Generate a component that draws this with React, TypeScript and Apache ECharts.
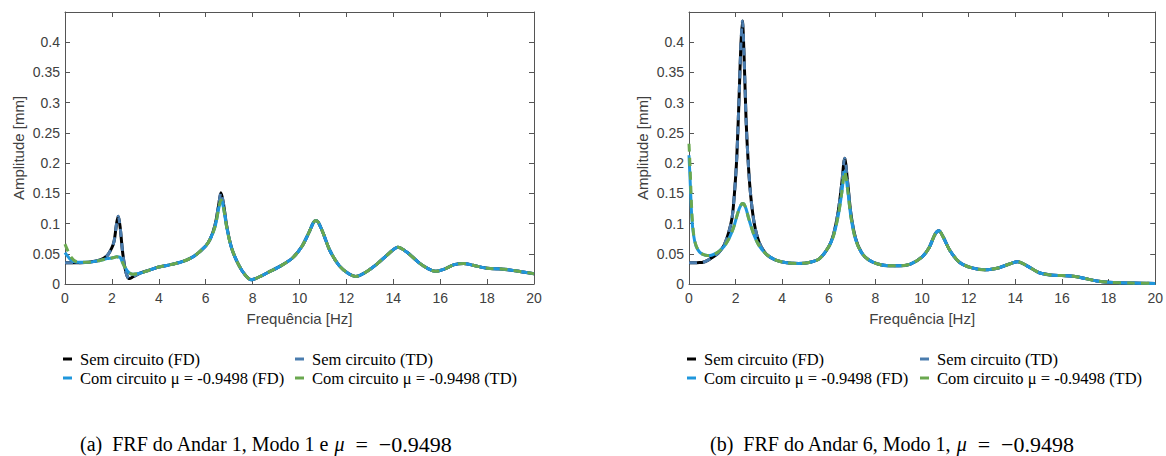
import React, { useEffect, useRef } from "react";
import * as echarts from "echarts";

// ---------- data ----------
const names = [
  "Sem circuito (FD)",
  "Sem circuito (TD)",
  "Com circuito μ = -0.9498 (FD)",
  "Com circuito μ = -0.9498 (TD)",
];
const colors = ["#000000", "#4a7cae", "#1f97dc", "#6aa84f"];

const xTicks = [0, 2, 4, 6, 8, 10, 12, 14, 16, 18, 20];
const yTicks = [0, 0.05, 0.1, 0.15, 0.2, 0.25, 0.3, 0.35, 0.4];

// (a) Andar 1
const freqA = [0, 0.25, 0.5, 1.0, 1.5, 1.8, 2.0, 2.1, 2.2, 2.27, 2.35, 2.45, 2.55, 2.65, 2.75, 2.9, 3.2, 3.6, 4.0, 4.5, 5.0, 5.5, 6.0, 6.2, 6.4, 6.55, 6.65, 6.75, 6.9, 7.1, 7.4, 7.7, 7.95, 8.3, 8.7, 9.2, 9.7, 10.1, 10.4, 10.6, 10.7, 10.8, 11.0, 11.3, 11.7, 12.1, 12.4, 12.8, 13.3, 13.8, 14.2, 14.6, 15.1, 15.5, 15.8, 16.2, 16.6, 17.0, 17.4, 18.0, 18.6, 19.2, 20];
const semA = [0.035, 0.035, 0.0352, 0.036, 0.04, 0.047, 0.06, 0.072, 0.1, 0.112, 0.095, 0.055, 0.028, 0.013, 0.009, 0.012, 0.018, 0.023, 0.028, 0.032, 0.037, 0.046, 0.063, 0.075, 0.098, 0.13, 0.151, 0.135, 0.095, 0.06, 0.032, 0.014, 0.007, 0.012, 0.02, 0.03, 0.043, 0.062, 0.085, 0.102, 0.105, 0.102, 0.085, 0.055, 0.03, 0.017, 0.0125, 0.019, 0.033, 0.05, 0.061, 0.052, 0.035, 0.025, 0.021, 0.025, 0.032, 0.034, 0.031, 0.026, 0.025, 0.022, 0.017];
const comFDA = [0.052, 0.04, 0.036, 0.036, 0.039, 0.042, 0.043, 0.044, 0.0452, 0.0448, 0.044, 0.036, 0.028, 0.022, 0.018, 0.016, 0.018, 0.023, 0.028, 0.032, 0.037, 0.046, 0.063, 0.075, 0.095, 0.124, 0.139, 0.128, 0.093, 0.06, 0.032, 0.014, 0.007, 0.012, 0.02, 0.03, 0.043, 0.062, 0.085, 0.102, 0.105, 0.102, 0.085, 0.055, 0.03, 0.017, 0.0125, 0.019, 0.033, 0.05, 0.061, 0.052, 0.035, 0.025, 0.021, 0.025, 0.032, 0.034, 0.031, 0.026, 0.025, 0.022, 0.017];
const comTDA = [0.066, 0.045, 0.037, 0.036, 0.039, 0.042, 0.043, 0.044, 0.0452, 0.0448, 0.044, 0.036, 0.028, 0.022, 0.018, 0.016, 0.018, 0.023, 0.028, 0.032, 0.037, 0.046, 0.063, 0.075, 0.095, 0.124, 0.139, 0.128, 0.093, 0.06, 0.032, 0.014, 0.007, 0.012, 0.02, 0.03, 0.043, 0.062, 0.085, 0.102, 0.105, 0.102, 0.085, 0.055, 0.03, 0.017, 0.0125, 0.019, 0.033, 0.05, 0.061, 0.052, 0.035, 0.025, 0.021, 0.025, 0.032, 0.034, 0.031, 0.026, 0.025, 0.022, 0.017];

// (b) Andar 6
const freqB = [0, 0.05, 0.12, 0.2, 0.3, 0.45, 0.6, 0.8, 1.0, 1.25, 1.5, 1.7, 1.85, 1.95, 2.05, 2.15, 2.22, 2.29, 2.36, 2.45, 2.55, 2.65, 2.8, 3.0, 3.3, 3.7, 4.2, 4.7, 5.2, 5.6, 6.0, 6.2, 6.4, 6.55, 6.68, 6.8, 6.95, 7.15, 7.4, 7.7, 8.1, 8.6, 9.0, 9.5, 10.0, 10.3, 10.55, 10.72, 10.9, 11.2, 11.6, 12.1, 12.7, 13.3, 13.8, 14.1, 14.5, 15.0, 15.5, 16.0, 16.5, 17.0, 17.5, 18.0, 19.0, 20];
const semB = [0.035, 0.035, 0.035, 0.035, 0.0352, 0.0355, 0.036, 0.039, 0.044, 0.051, 0.064, 0.085, 0.11, 0.15, 0.21, 0.31, 0.39, 0.435, 0.38, 0.27, 0.195, 0.145, 0.1, 0.07, 0.05, 0.04, 0.035, 0.034, 0.036, 0.042, 0.062, 0.082, 0.12, 0.165, 0.208, 0.17, 0.115, 0.075, 0.052, 0.04, 0.033, 0.03, 0.03, 0.033, 0.045, 0.06, 0.082, 0.088, 0.078, 0.055, 0.036, 0.027, 0.0235, 0.027, 0.034, 0.037, 0.03, 0.019, 0.015, 0.014, 0.013, 0.009, 0.005, 0.003, 0.0015, 0.001];
const comFDB = [0.213, 0.17, 0.11, 0.08, 0.063, 0.053, 0.049, 0.047, 0.048, 0.053, 0.062, 0.074, 0.087, 0.098, 0.112, 0.124, 0.13, 0.133, 0.132, 0.124, 0.11, 0.097, 0.08, 0.064, 0.05, 0.04, 0.035, 0.034, 0.036, 0.042, 0.062, 0.08, 0.113, 0.15, 0.186, 0.158, 0.11, 0.073, 0.052, 0.04, 0.033, 0.03, 0.03, 0.033, 0.045, 0.06, 0.082, 0.088, 0.078, 0.055, 0.036, 0.027, 0.0235, 0.027, 0.034, 0.037, 0.03, 0.019, 0.015, 0.014, 0.013, 0.009, 0.005, 0.003, 0.0015, 0.001];
const comTDB = [0.232, 0.19, 0.12, 0.082, 0.064, 0.053, 0.049, 0.047, 0.048, 0.053, 0.062, 0.074, 0.087, 0.098, 0.112, 0.124, 0.13, 0.133, 0.132, 0.124, 0.11, 0.097, 0.08, 0.064, 0.05, 0.04, 0.035, 0.034, 0.036, 0.042, 0.062, 0.08, 0.113, 0.15, 0.186, 0.158, 0.11, 0.073, 0.052, 0.04, 0.033, 0.03, 0.03, 0.033, 0.045, 0.06, 0.082, 0.088, 0.078, 0.055, 0.036, 0.027, 0.0235, 0.027, 0.034, 0.037, 0.03, 0.019, 0.015, 0.014, 0.013, 0.009, 0.005, 0.003, 0.0015, 0.001];

const captionA = ["(a)  FRF do Andar 1, Modo 1 e ", "μ", "  = ", " −0.9498"];
const captionB = ["(b)  FRF do Andar 6, Modo 1, ", "μ", "  = ", " −0.9498"];

// ---------- helpers ----------
const AX = "#555555";
const LBL = "#404040";
const SANS = "'Liberation Sans', Arial, Helvetica, sans-serif";
const SERIF = "'Liberation Serif', 'Times New Roman', serif";

const pairs = (f: number[], v: number[]) => f.map((x, i) => [x, v[i]]);

function makeSeries(ax: number, f: number[], sem: number[], semTD: number[], com: number[], comTD: number[]) {
  const vals = [sem, semTD, com, comTD];
  return vals.map((v, k) => ({
    type: "line",
    name: names[k],
    xAxisIndex: ax,
    yAxisIndex: ax,
    data: pairs(f, v),
    showSymbol: false,
    smooth: 0.3,
    color: colors[k],
    lineStyle: {
      color: colors[k],
      width: 3,
      type: k % 2 === 1 ? [8, 6] : "solid",
    },
    z: 2 + k,
  }));
}

function xAxes(grid: number) {
  const base = {
    type: "value",
    gridIndex: grid,
    min: xTicks[0],
    max: xTicks[xTicks.length - 1],
    interval: xTicks[1] - xTicks[0],
    splitLine: { show: false },
    axisLine: { show: true, onZero: false, lineStyle: { color: AX, width: 1 } },
    axisTick: { show: true, inside: true, length: 5, lineStyle: { color: AX } },
  };
  return [
    {
      ...base,
      position: "bottom",
      axisLabel: { color: LBL, fontFamily: SANS, fontSize: 14, margin: 7 },
      name: "Frequência [Hz]",
      nameLocation: "middle",
      nameGap: 27,
      nameTextStyle: { color: LBL, fontFamily: SANS, fontSize: 15 },
    },
    { ...base, position: "top", axisLabel: { show: false } },
  ];
}

function yAxes(grid: number) {
  const base = {
    type: "value",
    gridIndex: grid,
    min: 0,
    max: 0.45,
    interval: yTicks[1] - yTicks[0],
    splitLine: { show: false },
    axisLine: { show: true, onZero: false, lineStyle: { color: AX, width: 1 } },
    axisTick: { show: true, inside: true, length: 5, lineStyle: { color: AX } },
  };
  return [
    {
      ...base,
      position: "left",
      axisLabel: {
        color: LBL,
        fontFamily: SANS,
        fontSize: 14,
        margin: 5,
        formatter: (v: number) => (v > yTicks[yTicks.length - 1] + 0.01 ? "" : String(+v.toFixed(2))),
      },
      name: "Amplitude [mm]",
      nameLocation: "middle",
      nameGap: 39,
      nameTextStyle: { color: LBL, fontFamily: SANS, fontSize: 15 },
    },
    { ...base, position: "right", axisLabel: { show: false } },
  ];
}

function legend(left: number, data: string[]) {
  return {
    left,
    top: 345,
    orient: "vertical",
    data,
    icon: "rect",
    itemWidth: 9,
    itemHeight: 3,
    itemGap: 1,
    selectedMode: false,
    textStyle: {
      fontFamily: SERIF,
      fontSize: 16.5,
      color: "#000",
      lineHeight: 18,
      padding: [0, 0, 0, 3],
    },
  };
}

function caption(left: number, parts: string[]) {
  return {
    type: "text",
    left,
    top: 433,
    style: {
      text: `{n|${parts[0]}}{i|${parts[1]}}{m|${parts[2]}}{m|${parts[3]}}`,
      rich: {
        n: { fontFamily: SERIF, fontSize: 20, fill: "#000" },
        i: { fontFamily: SERIF, fontSize: 20, fontStyle: "italic", fill: "#000" },
        m: { fontFamily: SERIF, fontSize: 22, fill: "#000" },
      },
    },
  };
}

export default function App() {
  const ref = useRef<HTMLDivElement>(null);
  useEffect(() => {
    if (!ref.current) return;
    const chart = echarts.init(ref.current, undefined, { renderer: "svg" });
    chart.setOption({
      animation: false,
      backgroundColor: "#ffffff",
      grid: [
        { left: 65, top: 12, width: 469, height: 272 },
        { left: 689, top: 12, width: 469, height: 272 },
      ],
      xAxis: [...xAxes(0), ...xAxes(1)],
      yAxis: [...yAxes(0), ...yAxes(1)],
      legend: [
        legend(58, [names[0], names[2]]),
        legend(290, [names[1], names[3]]),
        legend(682, [names[0], names[2]]),
        legend(915, [names[1], names[3]]),
      ],
      graphic: [caption(80, captionA), caption(710, captionB)],
      series: [
        ...makeSeries(0, freqA, semA, semA, comFDA, comTDA),
        ...makeSeries(2, freqB, semB, semB, comFDB, comTDB),
      ],
    });
    return () => chart.dispose();
  }, []);
  return (
    <div
      ref={ref}
      style={{ position: "absolute", left: 0, top: 0, width: 1166, height: 456 }}
    />
  );
}
